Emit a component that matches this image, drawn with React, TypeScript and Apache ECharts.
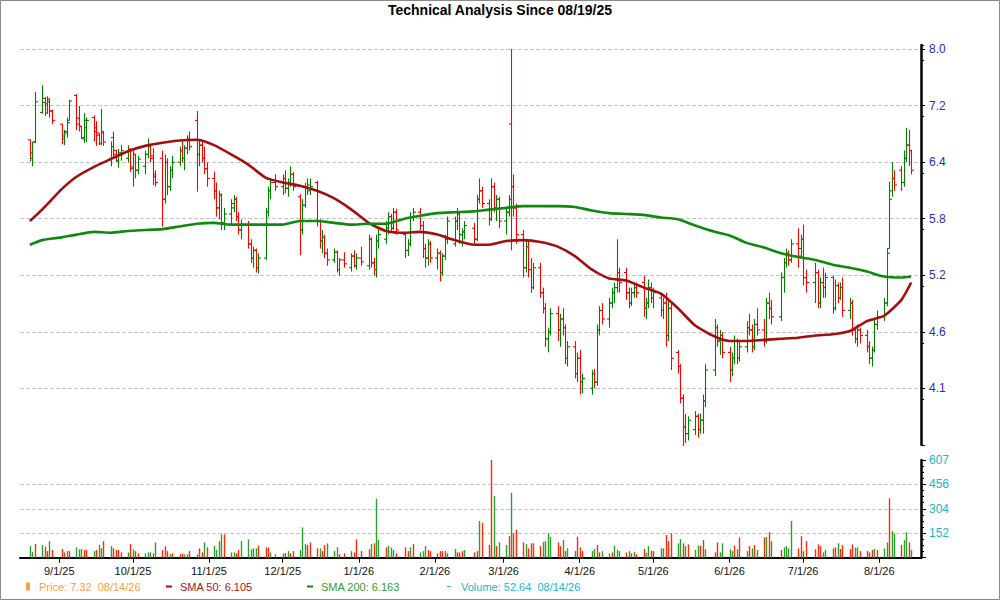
import React, { useEffect, useRef } from "react";
import * as echarts from "echarts";

const TITLE = "Technical Analysis Since 08/19/25";
const FIRST_DAY = "2025-08-20";
const LAST_DAY = "2026-08-14";
const HOLIDAYS = ["2025-09-01", "2025-11-27", "2025-12-25", "2026-01-01", "2026-01-19", "2026-02-16", "2026-04-03", "2026-05-25", "2026-06-19", "2026-07-03"];
const AXIS_START = "2025-08-16";
const AXIS_END = "2026-08-18";

const PRICE_TICKS = ["4.1", "4.6", "5.2", "5.8", "6.4", "7.2", "8.0"];
const VOLUME_TICKS = ["", "152", "304", "456", "607"];
const VOLUME_TOP = 607;

const PRICE_NAME = "Price: 7.32  08/14/26";
const SMA50_NAME = "SMA 50: 6.105";
const SMA200_NAME = "SMA 200: 6.163";
const VOLUME_NAME = "Volume: 52.64  08/14/26";

// open, high, low, close per trading day
const OHLC = [
  [6.69, 6.69, 6.41, 6.52], [6.45, 6.66, 6.35, 6.66], [6.66, 7.35, 6.65, 7.21],
  [7.06, 7.45, 7.04, 7.20], [7.26, 7.28, 7.01, 7.18], [7.05, 7.29, 7.04, 7.21], [7.25, 7.26, 6.99, 7.08], [7.08, 7.10, 6.90, 6.95],
  [6.90, 6.90, 6.63, 6.74], [6.70, 6.82, 6.62, 6.80], [6.78, 6.99, 6.72, 6.92], [6.95, 7.24, 6.95, 7.22],
  [7.30, 7.32, 6.82, 6.90], [6.98, 7.15, 6.80, 6.87], [6.87, 6.87, 6.70, 6.72], [6.70, 7.05, 6.65, 6.95], [6.85, 6.99, 6.66, 6.95],
  [6.99, 7.02, 6.67, 6.80], [6.85, 6.94, 6.61, 6.75], [6.78, 6.78, 6.62, 6.64], [6.64, 7.11, 6.62, 6.80], [6.78, 6.80, 6.61, 6.66],
  [6.45, 6.67, 6.35, 6.60], [6.72, 6.80, 6.45, 6.50], [6.55, 6.56, 6.40, 6.42], [6.42, 6.57, 6.33, 6.52], [6.50, 6.62, 6.42, 6.55],
  [6.45, 6.62, 6.40, 6.56], [6.57, 6.58, 6.28, 6.34], [6.32, 6.55, 6.10, 6.50], [6.50, 6.50, 6.20, 6.30], [6.30, 6.48, 6.25, 6.44],
  [6.35, 6.55, 6.25, 6.50], [6.50, 6.71, 6.45, 6.60], [6.62, 6.62, 6.40, 6.45], [6.48, 6.58, 6.12, 6.22], [6.25, 6.30, 6.10, 6.15],
  [6.45, 6.55, 5.64, 5.95], [5.95, 6.50, 5.90, 6.40], [6.40, 6.45, 6.00, 6.10], [6.10, 6.35, 6.05, 6.30], [6.30, 6.48, 6.20, 6.40],
  [6.40, 6.60, 6.35, 6.55], [6.55, 6.70, 6.40, 6.45], [6.45, 6.62, 6.30, 6.58], [6.58, 6.75, 6.50, 6.70], [6.70, 6.80, 6.55, 6.60],
  [6.95, 7.08, 6.04, 6.50], [6.50, 6.70, 6.35, 6.62], [6.62, 6.66, 6.40, 6.45], [6.45, 6.60, 6.25, 6.32], [6.32, 6.40, 6.10, 6.20],
  [6.20, 6.28, 5.95, 6.05], [6.05, 6.15, 5.75, 5.85], [5.85, 6.05, 5.72, 6.00], [6.00, 6.02, 5.60, 5.68], [5.68, 5.85, 5.60, 5.78],
  [5.78, 5.95, 5.65, 5.90], [5.85, 6.00, 5.80, 5.95], [5.95, 5.98, 5.70, 5.75], [5.75, 5.80, 5.55, 5.60], [5.60, 5.72, 5.50, 5.65],
  [5.65, 5.70, 5.40, 5.45], [5.45, 5.50, 5.25, 5.30], [5.30, 5.42, 5.20, 5.38], [5.38, 5.40, 5.15, 5.20], [5.20, 5.35, 5.14, 5.30],
  [5.30, 5.85, 5.28, 5.80], [5.80, 6.10, 5.75, 6.05], [6.05, 6.20, 5.95, 6.15], [6.15, 6.25, 6.05, 6.10],
  [6.10, 6.25, 6.00, 6.20], [6.20, 6.30, 6.02, 6.08], [6.08, 6.20, 5.98, 6.15], [6.15, 6.35, 6.10, 6.25], [6.25, 6.28, 6.05, 6.10],
  [5.98, 6.01, 5.33, 5.60], [5.60, 5.95, 5.55, 5.88], [5.88, 6.15, 5.85, 6.08], [6.08, 6.20, 6.00, 6.12], [6.05, 6.20, 6.00, 6.10],
  [6.15, 6.17, 5.64, 5.70], [5.70, 5.72, 5.40, 5.48], [5.48, 5.60, 5.35, 5.52], [5.52, 5.55, 5.30, 5.35], [5.35, 5.40, 5.22, 5.28],
  [5.28, 5.40, 5.25, 5.36], [5.36, 5.38, 5.15, 5.18], [5.18, 5.30, 5.12, 5.28], [5.28, 5.36, 5.20, 5.24],
  [5.20, 5.35, 5.16, 5.32], [5.32, 5.38, 5.20, 5.22], [5.22, 5.35, 5.18, 5.30], [5.30, 5.42, 5.22, 5.26],
  [5.22, 5.55, 5.18, 5.50], [5.50, 5.52, 5.20, 5.25], [5.25, 5.30, 5.12, 5.18], [5.18, 5.55, 5.10, 5.48], [5.48, 5.62, 5.40, 5.55],
  [5.50, 5.70, 5.45, 5.62], [5.62, 5.80, 5.55, 5.75], [5.75, 5.78, 5.58, 5.62], [5.62, 5.85, 5.60, 5.80], [5.80, 5.84, 5.55, 5.60],
  [5.55, 5.58, 5.30, 5.38], [5.38, 5.50, 5.32, 5.45], [5.45, 5.80, 5.42, 5.75], [5.75, 5.85, 5.70, 5.80],
  [5.80, 5.85, 5.60, 5.65], [5.65, 5.70, 5.30, 5.40], [5.40, 5.45, 5.20, 5.30], [5.30, 5.50, 5.22, 5.45], [5.45, 5.48, 5.25, 5.30],
  [5.30, 5.40, 5.18, 5.35], [5.35, 5.38, 5.06, 5.15], [5.15, 5.35, 5.12, 5.32], [5.32, 5.55, 5.28, 5.50], [5.50, 5.75, 5.45, 5.70],
  [5.45, 5.75, 5.42, 5.70], [5.70, 5.85, 5.60, 5.78], [5.78, 5.80, 5.45, 5.55], [5.55, 5.62, 5.42, 5.58], [5.58, 5.70, 5.50, 5.65],
  [5.62, 5.68, 5.45, 5.50], [5.50, 6.00, 5.48, 5.95], [5.95, 6.20, 5.90, 6.05], [6.05, 6.10, 5.85, 5.90],
  [5.90, 5.95, 5.65, 5.72], [5.72, 6.20, 5.70, 6.10], [6.10, 6.15, 5.80, 5.85], [5.85, 6.00, 5.70, 5.95], [5.95, 5.98, 5.62, 5.70],
  [5.70, 5.85, 5.55, 5.80], [5.80, 6.00, 5.75, 5.95], [6.90, 8.00, 5.38, 6.10], [6.10, 6.25, 5.75, 5.85], [5.85, 5.90, 5.45, 5.55],
  [5.55, 5.60, 5.10, 5.20], [5.20, 5.50, 5.15, 5.42], [5.42, 5.48, 5.10, 5.18], [5.18, 5.30, 4.95, 5.00], [5.00, 5.25, 4.98, 5.20],
  [5.20, 5.25, 4.90, 4.95], [4.95, 5.00, 4.75, 4.80], [4.80, 4.85, 4.45, 4.52], [4.52, 4.62, 4.40, 4.58], [4.58, 4.80, 4.55, 4.75],
  [4.75, 4.82, 4.50, 4.60], [4.60, 4.75, 4.45, 4.70], [4.70, 4.80, 4.55, 4.62], [4.62, 4.65, 4.30, 4.35], [4.35, 4.50, 4.28, 4.45],
  [4.45, 4.50, 4.18, 4.22], [4.22, 4.40, 4.15, 4.35], [4.35, 4.42, 4.05, 4.15], [4.15, 4.22, 4.06, 4.18],
  [4.10, 4.25, 4.05, 4.22], [4.22, 4.26, 4.10, 4.15], [4.15, 4.65, 4.12, 4.60], [4.60, 4.82, 4.55, 4.78], [4.78, 4.85, 4.65, 4.70],
  [4.70, 4.90, 4.62, 4.85], [4.85, 5.00, 4.80, 4.95], [4.95, 5.05, 4.85, 5.00], [5.00, 5.50, 4.95, 5.15], [5.15, 5.20, 4.95, 5.05],
  [5.15, 5.20, 4.88, 4.95], [4.95, 5.00, 4.80, 4.85], [4.85, 5.00, 4.82, 4.95], [4.95, 5.05, 4.90, 5.00], [5.00, 5.05, 4.90, 4.95],
  [5.05, 5.12, 4.72, 4.80], [4.80, 4.90, 4.70, 4.85], [4.85, 5.08, 4.80, 5.00], [5.00, 5.05, 4.85, 4.90], [4.90, 5.00, 4.80, 4.95],
  [4.90, 4.95, 4.72, 4.78], [4.78, 4.90, 4.70, 4.85], [4.85, 4.95, 4.45, 4.55], [4.55, 4.90, 4.50, 4.80], [4.80, 4.85, 4.25, 4.35],
  [4.40, 4.42, 4.22, 4.28], [4.28, 4.30, 3.98, 4.02], [4.02, 4.05, 3.66, 3.80], [3.80, 3.90, 3.68, 3.75], [3.75, 3.88, 3.70, 3.85],
  [3.78, 3.92, 3.74, 3.88], [3.88, 3.90, 3.72, 3.78], [3.78, 3.90, 3.75, 3.85], [3.85, 4.05, 3.75, 4.00], [4.00, 4.30, 3.95, 4.25],
  [4.25, 4.70, 4.20, 4.62], [4.62, 4.65, 4.45, 4.50], [4.50, 4.60, 4.38, 4.55], [4.55, 4.58, 4.35, 4.40],
  [4.40, 4.45, 4.15, 4.25], [4.25, 4.40, 4.20, 4.35], [4.35, 4.55, 4.30, 4.50], [4.50, 4.52, 4.30, 4.35], [4.35, 4.50, 4.32, 4.45],
  [4.45, 4.68, 4.40, 4.62], [4.62, 4.75, 4.55, 4.60], [4.60, 4.65, 4.40, 4.45], [4.45, 4.70, 4.42, 4.65], [4.65, 4.80, 4.55, 4.60],
  [4.60, 4.70, 4.45, 4.50], [4.50, 4.90, 4.48, 4.85], [4.85, 4.95, 4.70, 4.80], [4.80, 4.88, 4.65, 4.72],
  [4.72, 5.15, 4.68, 5.10], [5.10, 5.30, 4.95, 5.25], [5.25, 5.40, 5.20, 5.35], [5.35, 5.38, 5.22, 5.28], [5.28, 5.50, 5.25, 5.45],
  [5.45, 5.62, 5.20, 5.32], [5.40, 5.55, 5.30, 5.50], [5.50, 5.66, 5.02, 5.10], [5.10, 5.18, 4.95, 5.05],
  [5.05, 5.25, 4.85, 5.15], [5.15, 5.18, 4.80, 4.85], [4.85, 5.10, 4.80, 5.05], [5.05, 5.20, 4.90, 5.00], [5.00, 5.15, 4.90, 5.10],
  [5.10, 5.12, 4.75, 4.80], [4.80, 5.08, 4.78, 5.02], [5.02, 5.05, 4.85, 4.90], [4.90, 5.05, 4.88, 5.00], [5.00, 5.10, 4.72, 4.78],
  [4.78, 4.90, 4.70, 4.85], [4.85, 4.88, 4.55, 4.60], [4.60, 4.62, 4.48, 4.52], [4.52, 4.65, 4.45, 4.60], [4.60, 4.62, 4.48, 4.55],
  [4.55, 4.60, 4.40, 4.45], [4.45, 4.50, 4.30, 4.35], [4.35, 4.45, 4.28, 4.42], [4.42, 4.70, 4.40, 4.65], [4.65, 4.78, 4.60, 4.72],
  [4.72, 4.90, 4.68, 4.85], [4.85, 5.40, 4.82, 5.35], [5.40, 6.16, 5.40, 5.95], [6.05, 6.40, 5.98, 6.20], [6.20, 6.30, 6.05, 6.12],
  [6.30, 6.35, 6.05, 6.15], [6.15, 6.55, 6.10, 6.45], [6.45, 6.85, 6.40, 6.62], [6.62, 6.82, 6.35, 6.55], [6.55, 6.55, 6.25, 6.30],
];

const VOLUME = [
  72, 37, 85,
  79, 68, 41, 103, 48,
  54, 33, 41, 41,
  64, 52, 54, 48, 48,
  41, 48, 79, 58, 103,
  72, 58, 48, 48, 33,
  33, 85, 52, 41, 27,
  27, 33, 33, 27, 95,
  48, 72, 41, 23, 27,
  21, 27, 21, 21, 41,
  21, 58, 33, 95, 64,
  72, 48, 103, 145, 145,
  33, 33, 27, 48, 103,
  114, 52, 58, 58, 75,
  64, 64, 33, 21,
  27, 27, 41, 27, 41,
  48, 188, 85, 79, 95,
  58, 58, 41, 79, 89,
  41, 64, 21, 27,
  41, 33, 114, 41,
  52, 85, 89, 366, 110,
  64, 75, 64, 48, 27,
  64, 41, 64, 85,
  33, 41, 72, 48, 41,
  27, 41, 41, 41, 27,
  54, 33, 33, 41, 48,
  33, 41, 228, 217,
  79, 607, 383, 72, 95,
  79, 134, 404, 151, 172,
  95, 85, 58, 89, 89,
  72, 99, 103, 151, 130,
  95, 72, 110, 41, 58,
  41, 130, 64, 41,
  41, 54, 79, 33, 41,
  27, 33, 75, 48, 41,
  33, 41, 27, 37, 21,
  54, 31, 72, 43, 41,
  58, 58, 141, 103, 151,
  89, 116, 89, 72, 83,
  48, 75, 75, 110, 52,
  33, 95, 33, 89,
  52, 41, 75, 52, 126,
  41, 72, 58, 79, 48,
  126, 130, 158, 103,
  48, 64, 72, 58, 228,
  58, 134, 41, 103,
  52, 83, 72, 33, 48,
  58, 64, 89, 54, 79,
  54, 83, 62, 64, 41,
  41, 33, 48, 54, 48,
  58, 95, 369, 165, 151,
  79, 110, 158, 95, 48,
];

// g = up-volume bar, r = down-volume bar (weeks separated by spaces)
const VOLUME_DIR =
  "ggr grrgr rrgr gggrr grggr grrrr grgrr gggrg rrrgr rrggr grrgr ggggr ggrrg ggggr rrgg grgrr gggrr rgrrg ggrr grrr " +
  "rgrgg rgggr rrgr gggrr rrrrg grrrg rrgr rrgrg grgrr rgrrr rgggg rrgrg grrr ggrrg grggg rgrgr rggrr ggrrr ggrgr ggrrg " +
  "rrgg ggrgr grgrg rgrg rgggg rrgr rrrgg rrgrr rrggr rrrgr ggrgg rggrg";

const SMA_DATES = [
  "2025-08-20", "2025-08-25", "2025-09-02", "2025-09-08", "2025-09-15", "2025-09-22", "2025-09-29", "2025-10-06", "2025-10-13", "2025-10-20",
  "2025-10-27", "2025-11-03", "2025-11-10", "2025-11-17", "2025-11-24", "2025-12-01", "2025-12-08", "2025-12-15", "2025-12-22", "2025-12-29",
  "2026-01-05", "2026-01-12", "2026-01-20", "2026-01-26", "2026-02-02", "2026-02-09", "2026-02-17", "2026-02-23", "2026-03-02", "2026-03-09",
  "2026-03-16", "2026-03-23", "2026-03-30", "2026-04-06", "2026-04-13", "2026-04-20", "2026-04-27", "2026-05-04", "2026-05-11", "2026-05-18",
  "2026-05-26", "2026-06-01", "2026-06-08", "2026-06-15", "2026-06-22", "2026-06-29", "2026-07-06", "2026-07-13", "2026-07-20", "2026-07-27",
  "2026-08-03", "2026-08-10", "2026-08-14",
];
const SMA50 = [
  5.70, 5.83, 6.07, 6.22, 6.34, 6.44, 6.54, 6.61, 6.65, 6.68,
  6.69, 6.62, 6.50, 6.37, 6.21, 6.15, 6.11, 6.05, 5.96, 5.83,
  5.68, 5.59, 5.57, 5.58, 5.55, 5.49, 5.44, 5.44, 5.48, 5.49,
  5.47, 5.42, 5.32, 5.18, 5.09, 5.07, 5.00, 4.94, 4.80, 4.64,
  4.54, 4.50, 4.50, 4.51, 4.52, 4.53, 4.55, 4.56, 4.59, 4.68,
  4.73, 4.88, 5.05,
];
const SMA200 = [
  5.44, 5.49, 5.52, 5.55, 5.58, 5.57, 5.59, 5.60, 5.61, 5.64,
  5.67, 5.68, 5.66, 5.66, 5.66, 5.66, 5.70, 5.70, 5.68, 5.66,
  5.67, 5.67, 5.73, 5.76, 5.79, 5.80, 5.81, 5.83, 5.85, 5.87,
  5.87, 5.87, 5.86, 5.82, 5.79, 5.78, 5.77, 5.74, 5.72, 5.65,
  5.58, 5.54, 5.46, 5.41, 5.35, 5.31, 5.28, 5.23, 5.20, 5.16,
  5.11, 5.10, 5.11,
];

const C = {
  up: "#008000",
  down: "#ff0000",
  volUp: "#2ca02c",
  volDown: "#ff2a0a",
  sma50: "#a30f0f",
  sma200: "#0f8a0f",
  price: "#f5a142",
  sma50Text: "#a3141c",
  sma200Text: "#3a9a2a",
  volText: "#22b5c5",
  priceAxis: "#2a2ab8",
  grid: "#c4c4c4",
};

const DAY = 86400000;
const toTs = (s: string) => Date.parse(s + "T00:00:00Z");

function tradingDays(): number[] {
  const out: number[] = [];
  const hol = new Set(HOLIDAYS);
  for (let t = toTs(FIRST_DAY); t <= toTs(LAST_DAY); t += DAY) {
    const d = new Date(t);
    const wd = d.getUTCDay();
    if (wd === 0 || wd === 6) continue;
    if (hol.has(d.toISOString().slice(0, 10))) continue;
    out.push(t);
  }
  return out;
}

// log scale expressed in "tick steps": 4.1 -> 0, 8.0 -> 6
const STEP = Math.log(8.0 / 4.1) / 6;
const toU = (p: number) => Math.log(p / 4.1) / STEP;

// layout (pixels)
const LEFT = 20;
const RIGHT = 79;
const PX_PER_STEP = 56.55;
const PRICE_TOP = 45;
const PRICE_UMAX = 6 + 4 / PX_PER_STEP;
const PRICE_HEIGHT = (PRICE_UMAX + 1) * PX_PER_STEP;
const MINOR_OFFSET = 11;
const MINOR_HEIGHT = 388.3 + MINOR_OFFSET - PRICE_TOP;
const VOL_TOP = 460;
const VOL_HEIGHT = 97.7;

export default function App() {
  const ref = useRef<HTMLDivElement>(null);

  useEffect(() => {
    document.body.style.margin = "0";
    if (!ref.current) return;
    const chart = echarts.init(ref.current, undefined, { renderer: "svg" });

    const days = tradingDays();
    const n = Math.min(days.length, OHLC.length, VOLUME.length);
    const dirs = VOLUME_DIR.replace(/ /g, "");
    const ohlcData = [];
    const volData = [];
    for (let i = 0; i < n; i++) {
      const [o, h, l, c] = OHLC[i];
      ohlcData.push([days[i], toU(o), toU(h), toU(l), toU(c)]);
      volData.push([days[i], VOLUME[i], dirs[i] === "g" ? 1 : 0]);
    }
    const sma50Data = SMA_DATES.map((d, i) => [toTs(d), toU(SMA50[i])]);
    const sma200Data = SMA_DATES.map((d, i) => [toTs(d), toU(SMA200[i])]);

    const xMin = toTs(AXIS_START);
    const xMax = toTs(AXIS_END);
    const volInterval = VOLUME_TOP / 4;
    const font = "Arial, 'Liberation Sans', sans-serif";

    const legendItem = (left: number, name: string, color: string, textColor: string, w: number, h: number, pad: number) => ({
      left, top: 581, itemWidth: w, itemHeight: h, icon: "rect", selectedMode: false, padding: 0,
      data: [{ name, itemStyle: { color } }],
      textStyle: { color: textColor, fontSize: 11, fontFamily: font, padding: [0, 0, 0, pad] },
    });

    const option: any = {
      animation: false,
      useUTC: true,
      backgroundColor: "#ffffff",
      textStyle: { fontFamily: font },
      title: {
        text: TITLE,
        left: "center",
        top: 3,
        padding: 0,
        textStyle: { fontSize: 14, fontWeight: "bold", color: "#000", fontFamily: font },
      },
      grid: [
        { left: LEFT, right: RIGHT, top: PRICE_TOP, height: PRICE_HEIGHT, outerBoundsMode: "none", containLabel: false },
        { left: LEFT, right: RIGHT, top: VOL_TOP, height: VOL_HEIGHT, outerBoundsMode: "none", containLabel: false },
        { left: LEFT, right: RIGHT, top: PRICE_TOP, height: MINOR_HEIGHT, outerBoundsMode: "none", containLabel: false },
      ],
      legend: [
        legendItem(26, PRICE_NAME, C.price, C.price, 4, 8, 4),
        legendItem(166, SMA50_NAME, C.sma50, C.sma50Text, 6, 2, 3),
        legendItem(307, SMA200_NAME, C.sma200, C.sma200Text, 6, 2, 3),
        legendItem(447, VOLUME_NAME, C.volText, C.volText, 4, 1, 5),
      ],
      xAxis: [
        { type: "time", gridIndex: 0, min: xMin, max: xMax, show: false },
        {
          type: "time", gridIndex: 1, min: xMin, max: xMax, splitNumber: 12,
          axisLine: { show: true, onZero: false, lineStyle: { color: "#000", width: 2 } },
          axisTick: { show: true, length: 5, lineStyle: { color: "#000" } },
          splitLine: { show: false },
          minorTick: { show: false },
          axisLabel: {
            color: "#111",
            fontSize: 11,
            margin: 8,
            hideOverlap: false,
            formatter: (v: number) => {
              const d = new Date(v);
              if (d.getUTCDate() !== 1) return "";
              return `${d.getUTCMonth() + 1}/1/${String(d.getUTCFullYear()).slice(2)}`;
            },
          },
        },
        { type: "value", gridIndex: 2, min: 0, max: 1, show: false },
      ],
      yAxis: [
        {
          type: "value", gridIndex: 0, position: "right", min: -1, max: PRICE_UMAX, interval: 1,
          axisLine: { show: true, onZero: false, lineStyle: { color: "#000", width: 2.5 } },
          axisTick: { show: true, length: 4, lineStyle: { color: "#000" } },
          axisLabel: {
            color: C.priceAxis, fontSize: 12, margin: 8,
            showMinLabel: true, showMaxLabel: false,
            formatter: (v: number) => {
              const k = Math.round(v);
              return k >= 0 && k < PRICE_TICKS.length ? PRICE_TICKS[k] : "";
            },
          },
          splitLine: { show: true, showMinLine: false, showMaxLine: false, lineStyle: { color: C.grid, type: [4, 2], width: 1 } },
        },
        {
          type: "value", gridIndex: 1, position: "right", min: 0, max: VOLUME_TOP, interval: volInterval,
          axisLine: { show: true, onZero: false, lineStyle: { color: "#000", width: 2.5 } },
          axisTick: { show: true, length: 5, lineStyle: { color: "#000" } },
          minorTick: { show: true, splitNumber: 4, length: 3, lineStyle: { color: "#000" } },
          axisLabel: {
            color: C.volText, fontSize: 12, margin: 8,
            formatter: (v: number) => VOLUME_TICKS[Math.round(v / volInterval)] ?? "",
          },
          splitLine: { show: true, showMinLine: false, showMaxLine: false, lineStyle: { color: C.grid, type: [4, 2], width: 1 } },
        },
        {
          type: "value", gridIndex: 2, position: "right", min: 0, interval: 1,
          max: MINOR_HEIGHT / PX_PER_STEP,
          axisLine: { show: false, onZero: false },
          axisTick: { show: true, length: 3, lineStyle: { color: "#000" } },
          axisLabel: { show: false },
          splitLine: { show: false },
        },
      ],
      series: [
        {
          name: PRICE_NAME,
          type: "custom",
          xAxisIndex: 0,
          yAxisIndex: 0,
          itemStyle: { color: C.price },
          encode: { x: 0, y: [1, 2, 3, 4] },
          data: ohlcData,
          z: 2,
          renderItem: (_params: any, api: any) => {
            const t = api.value(0);
            const o = api.coord([t, api.value(1)]);
            const h = api.coord([t, api.value(2)]);
            const l = api.coord([t, api.value(3)]);
            const c = api.coord([t, api.value(4)]);
            const color = api.value(4) >= api.value(1) ? C.up : C.down;
            const x = Math.round(o[0]) + 0.5;
            const style = { stroke: color, lineWidth: 1.1 };
            return {
              type: "group",
              children: [
                { type: "line", shape: { x1: x, y1: h[1], x2: x, y2: l[1] }, style },
                { type: "line", shape: { x1: x - 2.5, y1: o[1], x2: x, y2: o[1] }, style },
                { type: "line", shape: { x1: x, y1: c[1], x2: x + 2.5, y2: c[1] }, style },
              ],
            };
          },
        },
        {
          name: SMA50_NAME,
          type: "line",
          xAxisIndex: 0,
          yAxisIndex: 0,
          data: sma50Data,
          showSymbol: false,
          smooth: 0.2,
          lineStyle: { color: C.sma50, width: 2.6 },
          itemStyle: { color: C.sma50 },
          z: 3,
        },
        {
          name: SMA200_NAME,
          type: "line",
          xAxisIndex: 0,
          yAxisIndex: 0,
          data: sma200Data,
          showSymbol: false,
          smooth: 0.2,
          lineStyle: { color: C.sma200, width: 2.6 },
          itemStyle: { color: C.sma200 },
          z: 3,
        },
        {
          name: VOLUME_NAME,
          type: "custom",
          xAxisIndex: 1,
          yAxisIndex: 1,
          itemStyle: { color: C.volText },
          encode: { x: 0, y: 1 },
          data: volData,
          renderItem: (_params: any, api: any) => {
            const t = api.value(0);
            const top = api.coord([t, api.value(1)]);
            const base = api.coord([t, 0]);
            const color = api.value(2) === 1 ? C.volUp : C.volDown;
            return {
              type: "rect",
              shape: { x: Math.round(top[0]) - 0.2, y: top[1], width: 1.4, height: base[1] - top[1] },
              style: { fill: color },
            };
          },
        },
      ],
      graphic: [
        {
          type: "rect",
          shape: { x: 0.5, y: 0.5, width: 999, height: 599 },
          style: { fill: "none", stroke: "#8a8a8a", lineWidth: 1 },
          silent: true,
          z: 100,
        },
      ],
    };

    chart.setOption(option);
    return () => chart.dispose();
  }, []);

  return <div ref={ref} style={{ width: 1000, height: 600 }} />;
}
